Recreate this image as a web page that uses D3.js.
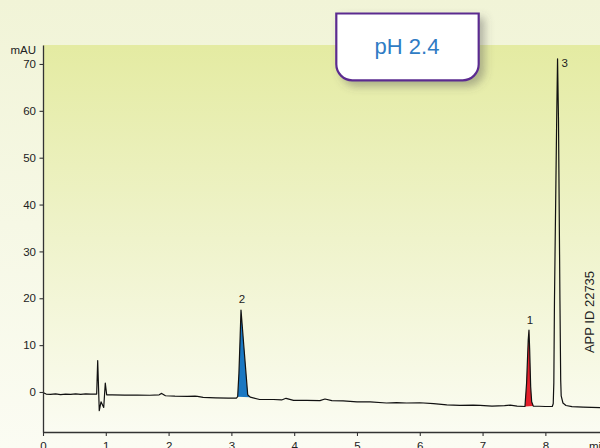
<!DOCTYPE html>
<html>
<head>
<meta charset="utf-8">
<script src="https://cdn.jsdelivr.net/npm/d3@7"></script>
<style>
  html, body { margin: 0; padding: 0; background: #ffffff; }
  svg { display: block; font-family: "Liberation Sans", Arial, Helvetica, sans-serif; }
</style>
</head>
<body>
<svg id="chart" width="600" height="448"></svg>
<script>
// Chromatogram trace: retention time (min) and detector response (mAU)
const retentionTimes = [
  0, 0.05, 0.12, 0.2, 0.28, 0.36, 0.44, 0.52, 0.6, 0.68, 0.76, 0.855,
  0.871, 0.896, 0.924, 0.967, 0.992, 1.014,
  1.1, 1.3, 1.5, 1.7, 1.85, 1.89, 1.95, 2.1, 2.3, 2.42, 2.46, 2.55, 2.75, 2.95, 3.08,
  3.10, 3.12, 3.14, 3.153, 3.20, 3.26, 3.30,
  3.45, 3.67, 3.80, 3.87, 3.99, 4.2, 4.41, 4.49, 4.6, 4.78, 5.0, 5.21, 5.47, 5.63,
  5.79, 6.0, 6.22, 6.43, 6.64, 6.85, 6.96, 7.15, 7.35, 7.44, 7.55, 7.675,
  7.701, 7.727, 7.739, 7.75, 7.766, 7.782, 7.807,
  7.9, 8.0, 8.11, 8.125,
  8.135, 8.145, 8.18, 8.194, 8.209, 8.232, 8.244, 8.252, 8.28, 8.328, 8.424,
  8.6, 8.87
];
const absorbance = [
  -0.1, -0.45, -0.5, -0.4, -0.55, -0.45, -0.5, -0.4, -0.5, -0.4, -0.45, -0.45,
  6.7, -4.0, -2.1, -3.3, 1.9, -0.6,
  -0.6, -0.65, -0.65, -0.7, -0.6, -0.3, -0.8, -0.9, -0.95, -0.9, -0.95, -1.15, -1.25, -1.3, -1.3,
  -1.0, 4.0, 12.0, 17.5, 9.5, -0.6, -1.1,
  -1.6, -1.6, -1.7, -1.35, -1.8, -1.8, -1.85, -1.5, -1.85, -1.9, -2.1, -2.1, -2.35, -2.25,
  -2.35, -2.3, -2.5, -2.75, -2.85, -2.8, -2.85, -3.0, -2.9, -2.8, -3.0, -3.1,
  1.9, 11.1, 13.2, 9.0, 1.1, -2.1, -3.0,
  -3.05, -3.1, -3.1, -2.5,
  2.0, 19.6, 58.0, 71.1, 58.0, 19.6, 2.56, -0.85, -2.35, -2.88, -3.14,
  -3.25, -3.35
];

// Peak identification
const peakNumbers = ["1", "2", "3"];
const peakApexTimes = [7.739, 3.153, 8.194];
const peakApexValues = [13.2, 17.5, 71.1];

// Integrated (shaded) peaks: start and end of each shaded window
const shadedPeakStarts = [7.675, 3.10];
const shadedPeakEnds = [7.807, 3.30];
const shadedPeakColors = ["#e3202b", "#1a78c2"];

// Axis ticks
const xTicks = [0, 1, 2, 3, 4, 5, 6, 7, 8];
const yTicks = [0, 10, 20, 30, 40, 50, 60, 70];

const svg = d3.select("#chart");
const W = 600, H = 448;
const plotLeft = 43, plotRight = 600, plotTop = 45, plotBottom = 432;

const x = d3.scaleLinear().domain([0, 8.87]).range([plotLeft, plotRight]);
const y = d3.scaleLinear().domain([-8.54, 74.05]).range([plotBottom, plotTop]);

const defs = svg.append("defs");

const bgGrad = defs.append("linearGradient").attr("id", "bgGrad")
  .attr("x1", 0).attr("y1", 0).attr("x2", 0).attr("y2", 1);
bgGrad.append("stop").attr("offset", "0%").attr("stop-color", "#f1f4d7");
bgGrad.append("stop").attr("offset", "100%").attr("stop-color", "#fbfcf3");

const plotGrad = defs.append("linearGradient").attr("id", "plotGrad")
  .attr("x1", 0).attr("y1", 0).attr("x2", 0).attr("y2", 1);
plotGrad.append("stop").attr("offset", "0%").attr("stop-color", "#e4eba2");
plotGrad.append("stop").attr("offset", "50%").attr("stop-color", "#eff3cb");
plotGrad.append("stop").attr("offset", "100%").attr("stop-color", "#fbfcf2");

const shadow = defs.append("filter").attr("id", "boxShadow")
  .attr("x", "-20%").attr("y", "-20%").attr("width", "150%").attr("height", "160%");
shadow.append("feDropShadow").attr("dx", 5).attr("dy", 5)
  .attr("stdDeviation", 4).attr("flood-color", "#555").attr("flood-opacity", 0.4);

defs.append("clipPath").attr("id", "plotClip")
  .append("rect").attr("x", plotLeft).attr("y", plotTop - 20)
  .attr("width", plotRight - plotLeft).attr("height", plotBottom - plotTop + 20);

// Backgrounds
svg.append("rect").attr("width", W).attr("height", H).attr("fill", "url(#bgGrad)");
svg.append("rect").attr("x", plotLeft).attr("y", plotTop)
  .attr("width", plotRight - plotLeft).attr("height", plotBottom - plotTop)
  .attr("fill", "url(#plotGrad)");

const trace = retentionTimes.map((t, i) => [t, absorbance[i]]);
const line = d3.line().x(d => x(d[0])).y(d => y(d[1]));

const plot = svg.append("g").attr("clip-path", "url(#plotClip)");

// Shaded peak areas, closed along a straight baseline
shadedPeakStarts.forEach((start, i) => {
  const seg = trace.filter(d => d[0] >= start - 1e-9 && d[0] <= shadedPeakEnds[i] + 1e-9);
  plot.append("path")
    .attr("d", line(seg) + "Z")
    .attr("fill", shadedPeakColors[i])
    .attr("stroke", "none");
});

// Trace
plot.append("path")
  .attr("d", line(trace))
  .attr("fill", "none")
  .attr("stroke", "#111")
  .attr("stroke-width", 1.2)
  .attr("stroke-linejoin", "round");

// Axes
const axisColor = "#333";
const yAxis = svg.append("g").attr("transform", `translate(${plotLeft},0)`)
  .call(d3.axisLeft(y).tickValues(yTicks).tickSize(3.5).tickPadding(3.5).tickSizeOuter(0));
const xAxis = svg.append("g").attr("transform", `translate(0,${plotBottom})`)
  .call(d3.axisBottom(x).tickValues(xTicks).tickSize(4).tickPadding(6).tickSizeOuter(0));

[xAxis, yAxis].forEach(g => {
  g.select(".domain").attr("stroke", axisColor).attr("stroke-width", 1.3);
  g.selectAll(".tick line").attr("stroke", axisColor).attr("stroke-width", 1.1);
  g.selectAll(".tick text").attr("fill", "#222").attr("font-size", 11.5)
    .attr("font-family", "\"Liberation Sans\", Arial, sans-serif");
});

svg.append("text").attr("x", 36).attr("y", 54).attr("text-anchor", "end")
  .attr("font-size", 11.5).attr("fill", "#222").text("mAU");
svg.append("text").attr("x", 589).attr("y", 450)
  .attr("font-size", 11.5).attr("fill", "#222").text("min");

// Peak labels
peakNumbers.forEach((lab, i) => {
  const px = x(peakApexTimes[i]), py = y(peakApexValues[i]);
  const t = svg.append("text").attr("font-size", 11.5).attr("fill", "#222").text(lab);
  if (lab === "3") {
    t.attr("x", px + 4).attr("y", py + 8).attr("text-anchor", "start");
  } else {
    t.attr("x", px + 1).attr("y", py - 6.5).attr("text-anchor", "middle");
  }
});

// Application ID
svg.append("text")
  .attr("transform", "translate(593.5,312) rotate(-90)")
  .attr("text-anchor", "middle")
  .attr("font-size", 13).attr("fill", "#222")
  .text("APP ID 22735");

// pH badge with square top and rounded bottom corners
const bx0 = 336.3, by0 = 13.5, bx1 = 478.7, by1 = 80.3, r = 16;
const badge = d3.path();
badge.moveTo(bx0, by0);
badge.lineTo(bx1, by0);
badge.lineTo(bx1, by1 - r);
badge.arcTo(bx1, by1, bx1 - r, by1, r);
badge.lineTo(bx0 + r, by1);
badge.arcTo(bx0, by1, bx0, by1 - r, r);
badge.closePath();
svg.append("path").attr("d", badge.toString())
  .attr("fill", "#ffffff").attr("stroke", "#5b2c90").attr("stroke-width", 2.2)
  .attr("filter", "url(#boxShadow)");
svg.append("text").attr("x", 407).attr("y", 54).attr("text-anchor", "middle")
  .attr("font-size", 22).attr("fill", "#2f7cc4").text("pH 2.4");
</script>
</body>
</html>
